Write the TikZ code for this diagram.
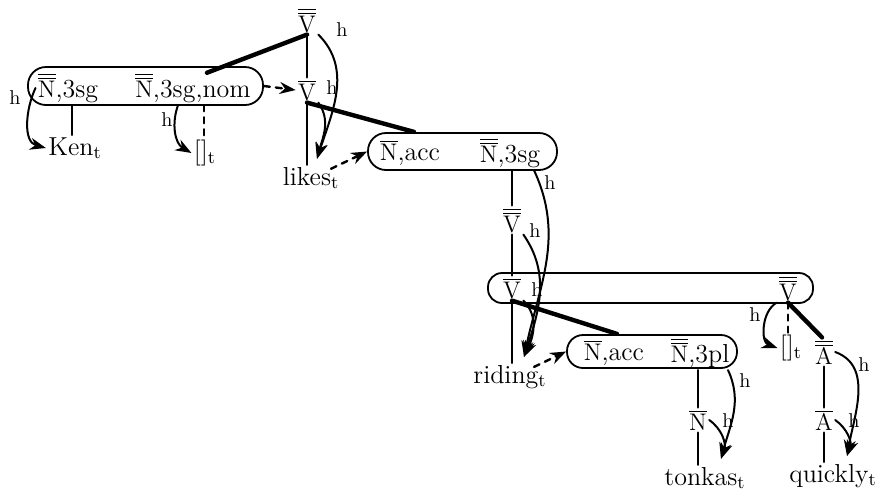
\documentclass[tikz,border=0pt]{standalone}
\usetikzlibrary{arrows.meta}
\newcommand{\onebar}[1]{$\overline{\mathrm{#1}}$}
\newcommand{\twobar}[1]{$\overline{\overline{\mathrm{#1}}}$}
\newcommand{\tsub}{$_{\mathrm{t}}$}
\begin{document}
\begin{tikzpicture}[x=0.5pt, y=-0.5pt, line join=round, line cap=round, >={Stealth[length=8pt,width=6pt]}]
			\tikzset{cat/.style={inner sep=1pt, font=\fontsize{13}{15}\selectfont},
				grp/.style={draw, line width=0.9pt},
				br/.style={line width=1.2pt},
				hbr/.style={line width=2.2pt},
				hd/.style={->, line width=1pt},
				lnk/.style={->, dashed, line width=1.2pt},
				hl/.style={font=\normalsize, inner sep=1pt}}
			\useasboundingbox (0,0) rectangle (881,499);
			% groups
			\node[grp, rounded corners=9pt, minimum width=117.5pt, minimum height=19pt] (box1) at (145.5,86) {};
			\node[grp, rounded corners=9pt, minimum width=94.5pt, minimum height=18.5pt] (box2) at (462.5,151.5) {};
			\node[grp, rounded corners=7pt, minimum width=162.5pt, minimum height=15pt] (box3) at (650.5,288) {};
			\node[grp, rounded corners=8pt, minimum width=85pt, minimum height=16.5pt] (box4) at (652,351.5) {};
			% categories and words
			\node[cat] (Vtop) at (307,20) {\twobar{V}};
			\node[cat] (Vmid) at (307,90) {\onebar{V}};
			\node[cat] (N3sg) at (68,88) {\twobar{N},3sg};
			\node[cat] (Nnom) at (193,88) {\twobar{N},3sg,nom};
			\node[cat] (Ken) at (75,148) {Ken\tsub};
			\node[cat] (trA) at (205,153) {[]\tsub};
			\node[cat] (likes) at (311,178) {likes\tsub};
			\node[cat] (NaccA) at (410,153) {\onebar{N},acc};
			\node[cat] (N3sgB) at (510,153) {\twobar{N},3sg};
			\node[cat] (Vdbl) at (512,220) {\twobar{V}};
			\node[cat] (Vleft) at (512,288) {\onebar{V}};
			\node[cat] (Vright) at (788,288) {\twobar{V}};
			\node[cat] (riding) at (510,377) {riding\tsub};
			\node[cat] (NaccB) at (614,353) {\onebar{N},acc};
			\node[cat] (N3pl) at (700,353) {\twobar{N},3pl};
			\node[cat] (Nlow) at (698,420) {\onebar{N}};
			\node[cat] (tonkas) at (705,478) {tonkas\tsub};
			\node[cat] (trB) at (791,348) {[]\tsub};
			\node[cat] (Atop) at (824,352) {\twobar{A}};
			\node[cat] (Alow) at (824,420) {\onebar{A}};
			\node[cat] (quickly) at (833,476) {quickly\tsub};
			% branches
			\draw[br] (Vtop.south) -- (Vmid.north);
			\draw[hbr] (Vtop.south) -- ([xshift=7pt,yshift=-1pt]Nnom.north);
			\draw[br] (Vmid.south) -- (likes.north -| Vmid.south);
			\draw[hbr] (Vmid.south) -- ([xshift=2pt,yshift=3pt]NaccA.north);
			\draw[br] ([xshift=2pt]N3sg.south) -- ([xshift=2pt]N3sg.south |- Ken.north);
			\draw[br,dashed] ([xshift=5.5pt]Nnom.south) -- ([xshift=5.5pt]Nnom.south |- trA.north);
			\draw[br] (Vdbl.north |- N3sgB.south) -- (Vdbl.north);
			\draw[br] (Vdbl.south) -- (Vleft.north);
			\draw[br] (Vleft.south) -- (riding.north -| Vleft.south);
			\draw[hbr] (Vleft.south) -- ([xshift=1.5pt,yshift=2pt]NaccB.north);
			\draw[br] (Nlow.north |- N3pl.south) -- (Nlow.north);
			\draw[br] (Nlow.south) -- (tonkas.north -| Nlow.south);
			\draw[br,dashed] (Vright.south) -- (trB.north -| Vright.south);
			\draw[hbr] (Vright.south) -- ([xshift=-1pt]Atop.north);
			\draw[br] (Atop.south) -- (Alow.north);
			\draw[br] (Alow.south) -- (quickly.north -| Alow.south);
			% links
			\draw[lnk] (box1.east) -- (Vmid.west);
			\draw[lnk] ([xshift=10pt,yshift=-2pt]likes.north) -- (box2.west);
			\draw[lnk] ([xshift=12pt,yshift=-2pt]riding.north) -- (box4.west);
			% heads
			\draw[hd] (Vtop.south east) to[out=-45,in=72] ([xshift=3pt,yshift=3pt]likes.north);
			\node[hl] at (342,30) {h};
			\draw[hd] (Vmid.south east) to[out=-55,in=75] ([xshift=3pt,yshift=3pt]likes.north);
			\node[hl] at (332,88) {h};
			\draw[hd] (N3sg.west) to[out=-115,in=165] (Ken.west);
			\node[hl] at (15,98) {h};
			\draw[hd] ([xshift=-7.5pt]Nnom.south) to[out=-110,in=150] (trA.west);
			\node[hl] at (167,120) {h};
			\draw[hd] ([xshift=12pt]N3sgB.south) to[out=-65,in=78] ([xshift=7pt,yshift=3pt]riding.north);
			\node[hl] at (550,183) {h};
			\draw[hd] (Vdbl.south east) to[out=-55,in=72] ([xshift=7pt,yshift=3pt]riding.north);
			\node[hl] at (535,231) {h};
			\draw[hd] (Vleft.south east) to[out=-45,in=65] ([xshift=7pt,yshift=3pt]riding.north);
			\node[hl] at (537,290) {h};
			\draw[hd] ([xshift=14pt]N3pl.south) to[out=-65,in=75] ([xshift=8pt,yshift=3pt]tonkas.north);
			\node[hl] at (745,381) {h};
			\draw[hd] (Nlow.east) to[out=-35,in=70] ([xshift=8pt,yshift=3pt]tonkas.north);
			\node[hl] at (728,421) {h};
			\draw[hd] (Vright.south west) to[out=-150,in=160] (trB.west);
			\node[hl] at (755,315) {h};
			\draw[hd] (Atop.east) to[out=-20,in=80] ([xshift=7pt,yshift=3pt]quickly.north);
			\node[hl] at (864,365) {h};
			\draw[hd] (Alow.east) to[out=-35,in=70] ([xshift=7pt,yshift=3pt]quickly.north);
			\node[hl] at (854,421) {h};
\end{tikzpicture}
\end{document}
